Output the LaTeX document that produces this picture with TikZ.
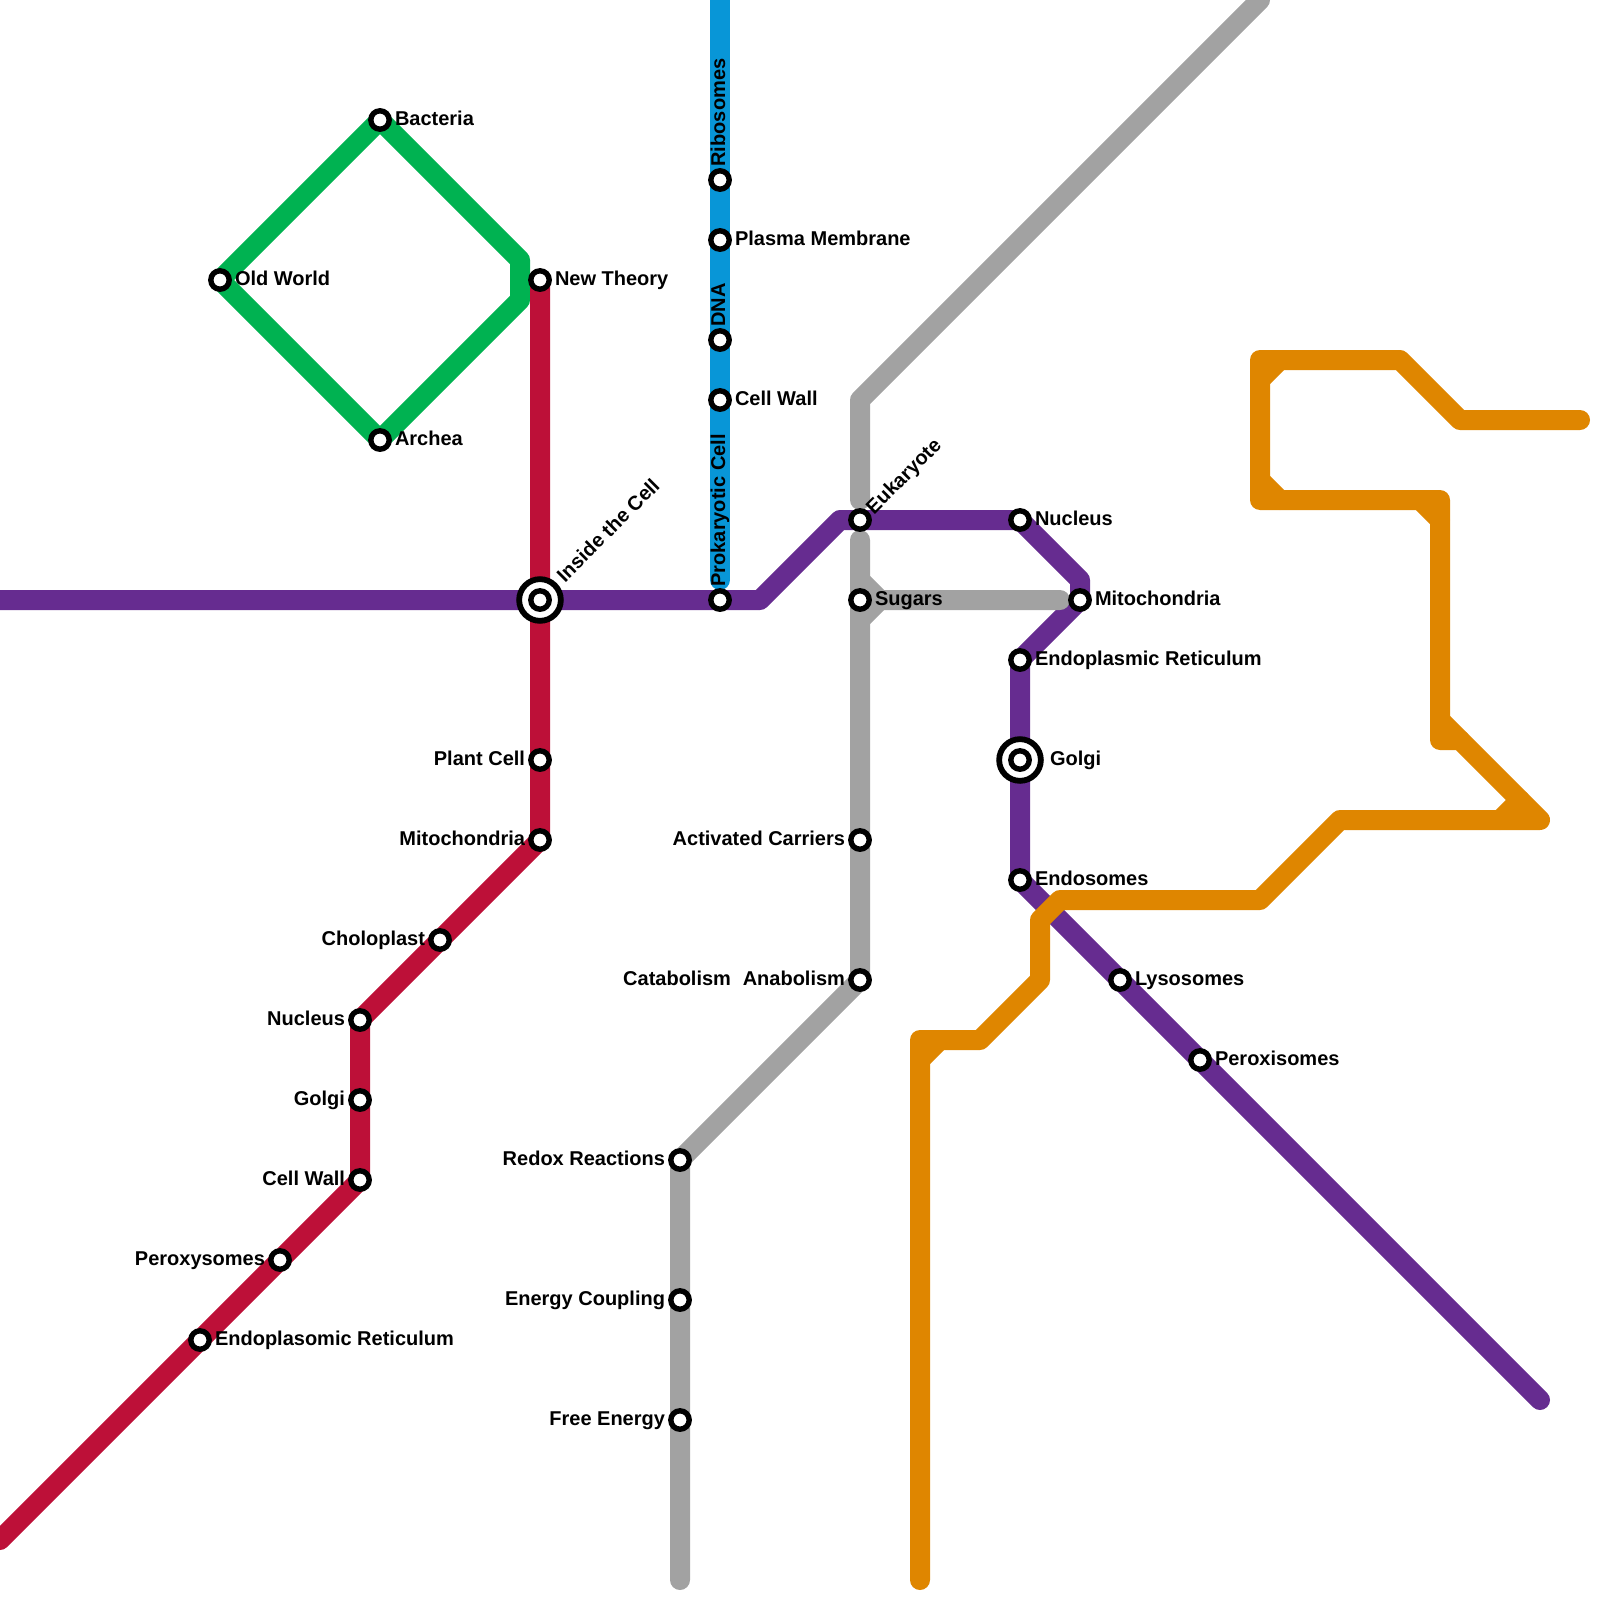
\documentclass[tikz,border=0pt]{standalone}
\usepackage{fontspec}
\setmainfont{Liberation Sans}
\pgfdeclarelayer{lines}
\pgfsetlayers{lines,main}
\definecolor{mred}{HTML}{BD1038}
\definecolor{morange}{HTML}{DF8600}
\definecolor{mpurple}{HTML}{662C90}
\definecolor{mgreen}{HTML}{00B251}
\definecolor{mblue}{HTML}{0896D7}
\definecolor{mgray}{HTML}{A2A2A2}
\tikzset{
  metro/.style={line width=20pt,line cap=round,line join=round},
  stn/.style={circle,draw=black,fill=white,line width=5.4pt,minimum size=18.4pt,inner sep=0pt,outer sep=0pt},
  hub/.style={circle,draw=black,fill=white,line width=5.8pt,minimum size=41.7pt,inner sep=0pt,outer sep=0pt},
  lab/.style={font=\fontsize{20}{24}\selectfont\bfseries,inner sep=0pt,outer sep=0pt,text=black},
  lr/.style={lab,anchor=base west},
  ll/.style={lab,anchor=base east},
  lu/.style={lab,anchor=base west,rotate=90},
  ld/.style={lab,anchor=base west,rotate=45}
}
\newcommand{\stnat}[3]{\node[stn] (#1) at (#2,#3) {};}
\newcommand{\labr}[2]{\node[lr] (#1-t) at ([shift={(15,5.5)}]#1.center) {#2};}
\newcommand{\labl}[2]{\node[ll] (#1-t) at ([shift={(-15,5.5)}]#1.center) {#2};}
\newcommand{\labu}[2]{\node[lu] (#1-t) at ([shift={(5,-13.5)}]#1.center) {#2};}
\begin{document}
\begin{tikzpicture}[x=1pt,y=-1pt]
\useasboundingbox (0,0) rectangle (1600,1600);
% stations: green
\stnat{bacteria}{380}{120}
\stnat{oldworld}{220}{280}
\stnat{archea}{380}{440}
% red
\stnat{newtheory}{540}{280}
\stnat{plantcell}{540}{760}
\stnat{mitor}{540}{840}
\stnat{choloplast}{440}{940}
\stnat{nucleusr}{360}{1020}
\stnat{golgir}{360}{1100}
\stnat{cellwallr}{360}{1180}
\stnat{peroxy}{280}{1260}
\stnat{endor}{200}{1340}
% blue
\stnat{ribosomes}{720}{180}
\stnat{plasma}{720}{240}
\stnat{dna}{720}{340}
\stnat{cellwallb}{720}{400}
\stnat{prokaryotic}{720}{600}
% purple
\node[hub] (inside) at (540,600) {};
\node[stn] (insidein) at (540,600) {};
\stnat{eukaryote}{860}{520}
\stnat{nucleusp}{1020}{520}
\stnat{mitop}{1080}{600}
\stnat{endop}{1020}{660}
\node[hub] (golgip) at (1020,760) {};
\node[stn] (golgipin) at (1020,760) {};
\stnat{endosomes}{1020}{880}
\stnat{lysosomes}{1120}{980}
\stnat{peroxisomes}{1200}{1060}
% gray
\stnat{sugars}{860}{600}
\stnat{activated}{860}{840}
\stnat{anabolism}{860}{980}
\stnat{redox}{680}{1160}
\stnat{coupling}{680}{1300}
\stnat{freeenergy}{680}{1420}
% labels
\labr{bacteria}{Bacteria}
\labr{oldworld}{Old World}
\labr{archea}{Archea}
\labr{newtheory}{New Theory}
\labl{plantcell}{Plant Cell}
\labl{mitor}{Mitochondria}
\labl{choloplast}{Choloplast}
\labl{nucleusr}{Nucleus}
\labl{golgir}{Golgi}
\labl{cellwallr}{Cell Wall}
\labl{peroxy}{Peroxysomes}
\labr{endor}{Endoplasomic Reticulum}
\labu{ribosomes}{Ribosomes}
\labr{plasma}{Plasma Membrane}
\labu{dna}{DNA}
\labr{cellwallb}{Cell Wall}
\labu{prokaryotic}{Prokaryotic Cell}
\node[ld] (inside-t) at ([shift={(25,-17)}]inside.center) {Inside the Cell};
\node[ld] (eukaryote-t) at ([shift={(14,-5)}]eukaryote.center) {Eukaryote};
\labr{nucleusp}{Nucleus}
\labr{mitop}{Mitochondria}
\labr{endop}{Endoplasmic Reticulum}
\node[lr] (golgip-t) at ([shift={(30,5.5)}]golgip.center) {Golgi};
\labr{endosomes}{Endosomes}
\labr{lysosomes}{Lysosomes}
\labr{peroxisomes}{Peroxisomes}
\labr{sugars}{Sugars}
\labl{activated}{Activated Carriers}
\labl{anabolism}{Anabolism}
\node[ll] (catabolism-t) at (731,985.5) {Catabolism};
\labl{redox}{Redox Reactions}
\labl{coupling}{Energy Coupling}
\labl{freeenergy}{Free Energy}
% free ends and bends
\coordinate (pL) at (0,600);
\coordinate (p1) at (760,600);
\coordinate (p2) at (840,520);
\coordinate (p3) at (1080,580);
\coordinate (pE) at (1540,1400);
\coordinate (rE) at (0,1540);
\coordinate (bT) at (720,0);
\coordinate (bB) at (720,580);
\coordinate (g1) at (520,260);
\coordinate (g2) at (520,300);
\coordinate (y1) at (1260,0);
\coordinate (y2) at (860,400);
\coordinate (y3) at (860,500);
\coordinate (y4) at (860,540);
\coordinate (y5) at (680,1580);
\coordinate (y6) at (860,580);
\coordinate (y7) at (880,600);
\coordinate (y8) at (1060,600);
\coordinate (y9) at (860,620);
\coordinate (o1) at (920,1580);
\coordinate (o2) at (920,1040);
\coordinate (o3) at (980,1040);
\coordinate (o4) at (1040,980);
\coordinate (o5) at (1040,920);
\coordinate (o6) at (1060,900);
\coordinate (o7) at (1260,900);
\coordinate (o8) at (1340,820);
\coordinate (o9) at (1540,820);
\coordinate (o10) at (1460,740);
\coordinate (o11) at (1440,740);
\coordinate (o12) at (1440,500);
\coordinate (o13) at (1260,500);
\coordinate (o14) at (1260,360);
\coordinate (o15) at (1400,360);
\coordinate (o16) at (1460,420);
\coordinate (o17) at (1580,420);
\coordinate (n1) at (920,1060);
\coordinate (n2) at (940,1040);
\coordinate (n3) at (1500,820);
\coordinate (n4) at (1520,800);
\coordinate (n5) at (1440,720);
\coordinate (n6) at (1420,500);
\coordinate (n7) at (1440,520);
\coordinate (n8) at (1260,480);
\coordinate (n9) at (1280,500);
\coordinate (n10) at (1260,380);
\coordinate (n11) at (1280,360);
\begin{pgfonlayer}{lines}
\draw[metro,mgreen] (bacteria.center) -- (g1) -- (g2) -- (archea.center) -- (oldworld.center) -- cycle;
\draw[metro,mred] (newtheory.center) -- (plantcell.center) -- (mitor.center) -- (choloplast.center) -- (nucleusr.center) -- (golgir.center) -- (cellwallr.center) -- (peroxy.center) -- (endor.center) -- (rE);
\draw[metro,mblue] (bT) -- (ribosomes.center) -- (plasma.center) -- (dna.center) -- (cellwallb.center) -- (bB);
\draw[metro,mpurple] (pL) -- (inside.center) -- (prokaryotic.center) -- (p1) -- (p2) -- (eukaryote.center) -- (nucleusp.center) -- (p3) -- (mitop.center) -- (endop.center) -- (golgip.center) -- (endosomes.center) -- (lysosomes.center) -- (peroxisomes.center) -- (pE);
\draw[metro,mgray] (y1) -- (y2) -- (y3);
\draw[metro,mgray] (y4) -- (sugars.center) -- (activated.center) -- (anabolism.center) -- (redox.center) -- (coupling.center) -- (freeenergy.center) -- (y5);
\draw[metro,mgray] (y6) -- (y7) -- (y8);
\draw[metro,mgray] (y9) -- (y7);
\draw[metro,morange] (o1) -- (o2) -- (o3) -- (o4) -- (o5) -- (o6) -- (o7) -- (o8) -- (o9) -- (o10) -- (o11) -- (o12) -- (o13) -- (o14) -- (o15) -- (o16) -- (o17);
\draw[metro,morange] (n1) -- (n2);
\draw[metro,morange] (n3) -- (n4);
\draw[metro,morange] (n5) -- (o10);
\draw[metro,morange] (n6) -- (n7);
\draw[metro,morange] (n8) -- (n9);
\draw[metro,morange] (n10) -- (n11);
\end{pgfonlayer}
\end{tikzpicture}
\end{document}
